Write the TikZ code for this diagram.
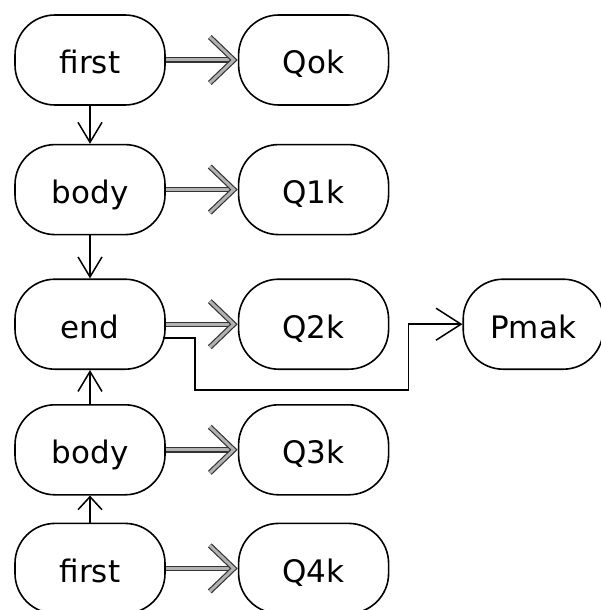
\documentclass[tikz,border=0pt]{standalone}
\usepackage{fontspec}
\setmainfont{DejaVu Sans}
\usetikzlibrary{arrows.meta, positioning, calc}

\begin{document}
\begin{tikzpicture}[
    x=1pt, y=1pt,
    font=\fontsize{31}{36}\selectfont,
    % Base styles for shapes and connectors
    state/.style={rectangle, rounded corners=40pt, draw=black, line width=1.6pt, minimum width=150pt, minimum height=90pt, align=center, text height=30pt, text depth=2pt},
    flow/.style={line width=1.5pt, -{Straight Barb[length=20pt, width=24pt, line width=1.5pt]}},
    emit/.style={draw=black!80, line width=1.2pt, double=black!30, double distance=3pt, line join=miter}
]
\useasboundingbox (0,0) rectangle (601,-610);

% --- Nodes ---
\node [state] (first) at (90,-60) {first};
\node [state, below=38pt of first] (body) {body};
\node [state, below=43pt of body] (end) {end};
\node [state, below=34pt of end] (bodyB) {body};
\node [state, below=27pt of bodyB] (firstB) {first};

\node [state, right=72pt of first] (Qok) {Qok};
\node [state, right=72pt of body] (Qone) {Q1k};
\node [state, right=72pt of end] (Qtwo) {Q2k};
\node [state, right=72pt of bodyB] (Qthree) {Q3k};
\node [state, right=72pt of firstB] (Qfour) {Q4k};

\node [state, minimum width=140pt, right=73pt of Qtwo] (Pmak) {Pmak};

% --- Arrows ---
\draw [flow] (first) -- (body);
\draw [flow] (body) -- (end);
\draw [flow] (bodyB) -- (end);
\draw [flow, -{Straight Barb[length=13pt, width=24pt, line width=1.5pt]}] (firstB) -- (bodyB);

% Double arrows to the Q nodes (tip drawn as a double V)
\foreach \src/\dst in {first/Qok, body/Qone, end/Qtwo, bodyB/Qthree, firstB/Qfour} {
  \draw [emit] (\src) -- ($(\dst.west)+(-8,0)$);
  \draw [emit] ($(\dst.west)+(-28,23)$) -- ($(\dst.west)+(-4,0)$) -- ($(\dst.west)+(-28,-23)$);
}

% Detour to Pmak
\draw [flow, -{Straight Barb[length=25pt, width=32pt, line width=1.5pt]}] ($(end.east)+(-3,-14)$) -| ++(32,-52) -| ($(Pmak.west)+(-54,0)$) -- (Pmak.west);

\end{tikzpicture}
\end{document}
